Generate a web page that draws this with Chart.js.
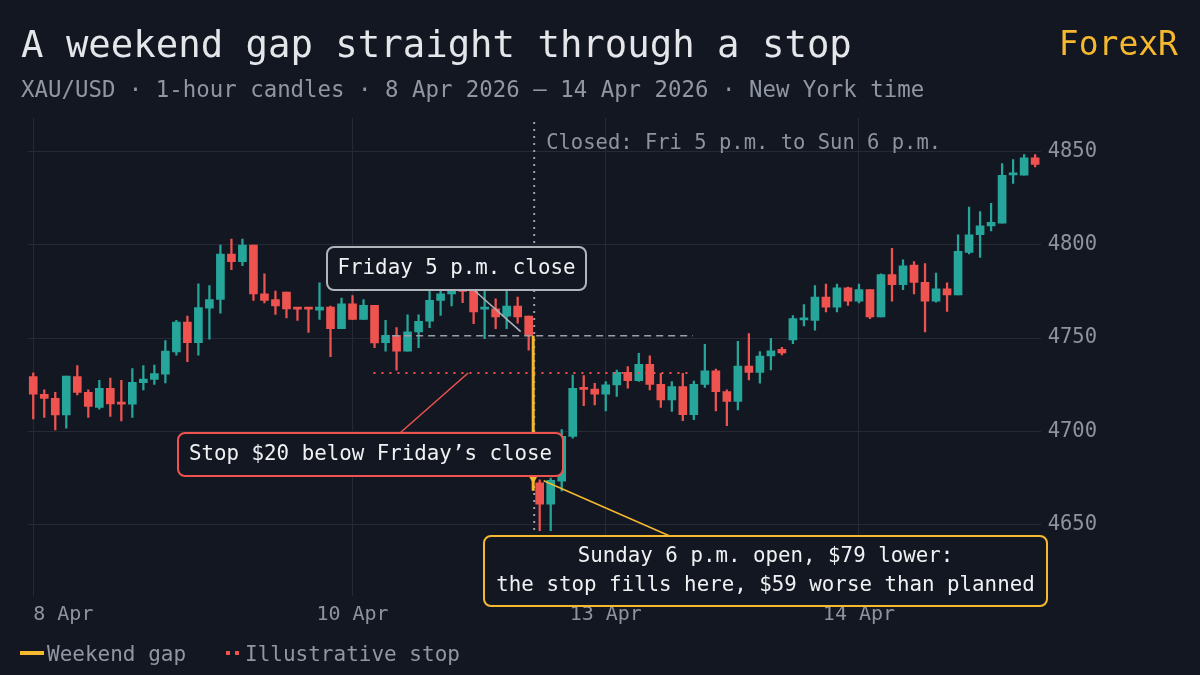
<!DOCTYPE html>
<html><head><meta charset="utf-8">
<script src="https://cdn.jsdelivr.net/npm/chart.js@4.4.1/dist/chart.umd.min.js"></script>
<style>
html,body{margin:0;padding:0;background:#131722;width:1200px;height:675px;overflow:hidden;font-family:"DejaVu Sans Mono",monospace;}
#wrap{position:absolute;left:0;top:0;width:1200px;height:675px;}
.t{position:absolute;white-space:nowrap;}
</style></head><body>
<div id="wrap"><canvas id="c" width="1200" height="675"></canvas></div>
<div class="t" style="left:21px;top:22px;font-size:37.3px;color:#e4e6ea;">A weekend gap straight through a stop</div>
<div class="t" style="right:22px;top:24px;font-size:33px;color:#f5b82e;">ForexR</div>
<div class="t" style="left:21px;top:76px;font-size:22.4px;color:#9097a3;">XAU/USD · 1-hour candles · 8 Apr 2026 – 14 Apr 2026 · New York time</div>
<div class="t" style="left:20px;top:642px;font-size:21px;color:#9097a3;"><span style="display:inline-block;width:24px;height:4px;background:#f5b82e;vertical-align:middle;margin-right:3px;position:relative;top:-2px"></span>Weekend gap</div>
<div class="t" style="left:226px;top:642px;font-size:21px;color:#9097a3;"><span style="display:inline-block;width:4px;height:4px;background:#ef5350;vertical-align:middle;margin-right:5px;position:relative;top:-2px"></span><span style="display:inline-block;width:4px;height:4px;background:#ef5350;vertical-align:middle;margin-right:6px;position:relative;top:-2px"></span>Illustrative stop</div>
<script>
const opens  = [4729.3,4719.9,4717.7,4708.8,4729.3,4720.9,4712.8,4723.1,4715.2,4714.5,4726.1,4727.9,4730.7,4742.6,4758.6,4747.6,4766.1,4770.7,4795.1,4791.0,4799.9,4773.7,4770.7,4774.6,4765.9,4765.9,4765.0,4766.6,4755.1,4768.4,4760.0,4767.5,4747.6,4751.5,4743.0,4753.3,4759.0,4770.2,4773.7,4777.0,4776.4,4765.5,4765.7,4761.8,4767.2,4761.8,4672.4,4661.0,4673.3,4697.3,4723.0,4722.7,4719.9,4724.9,4731.6,4727.2,4735.9,4725.2,4716.9,4724.0,4708.9,4725.2,4732.5,4721.3,4716.0,4735.0,4731.6,4740.4,4744.0,4749.0,4759.8,4759.5,4772.0,4766.6,4776.9,4769.8,4776.0,4761.3,4784.0,4778.7,4789.2,4779.9,4769.8,4776.4,4773.2,4795.9,4805.4,4810.2,4811.6,4837.5,4837.4,4846.6];
const highs  = [4731.4,4722.2,4720.9,4729.6,4735.2,4722.2,4727.3,4728.6,4727.3,4733.7,4735.2,4735.5,4748.7,4759.5,4761.8,4779.1,4778.2,4799.9,4803.1,4803.1,4799.9,4784.4,4775.2,4774.6,4765.9,4765.9,4779.6,4767.2,4771.4,4772.8,4770.7,4767.5,4759.5,4755.6,4762.5,4762.5,4775.0,4778.0,4780.0,4779.0,4780.0,4775.5,4771.0,4775.5,4772.0,4761.8,4674.0,4675.0,4700.9,4730.2,4729.9,4725.8,4726.7,4732.9,4734.7,4741.8,4740.5,4731.1,4726.7,4731.1,4727.0,4746.6,4733.4,4722.2,4748.3,4752.4,4742.7,4749.8,4745.0,4762.0,4768.0,4778.2,4779.0,4779.0,4777.3,4779.0,4776.0,4784.4,4798.1,4791.9,4791.0,4790.0,4784.9,4779.6,4805.4,4820.3,4817.8,4822.3,4843.6,4845.7,4848.4,4848.4];
const lows   = [4706.7,4707.4,4700.8,4701.7,4719.5,4707.4,4711.9,4708.0,4705.6,4707.4,4722.2,4725.2,4725.9,4740.8,4737.3,4740.8,4749.4,4763.4,4786.7,4788.8,4770.2,4768.9,4762.7,4760.8,4759.5,4753.0,4760.0,4740.0,4755.1,4760.0,4760.0,4744.8,4743.0,4732.8,4743.0,4744.8,4755.6,4762.2,4767.2,4769.0,4757.7,4749.7,4755.0,4755.0,4758.0,4743.5,4646.7,4646.7,4668.0,4696.4,4713.8,4714.2,4711.0,4718.7,4723.1,4726.7,4722.2,4712.8,4710.7,4705.7,4706.2,4723.5,4711.0,4703.0,4711.5,4727.5,4725.8,4732.9,4741.0,4747.0,4756.5,4754.2,4764.0,4764.0,4767.5,4768.9,4760.4,4761.3,4769.8,4776.0,4773.7,4753.3,4769.3,4764.3,4773.2,4795.1,4793.3,4807.5,4811.6,4832.9,4837.4,4841.8];
const closes = [4719.9,4717.7,4708.8,4729.6,4720.9,4713.3,4723.1,4714.7,4714.6,4726.3,4728.0,4730.9,4743.0,4758.6,4747.6,4766.3,4770.7,4795.1,4791.0,4799.9,4773.7,4770.2,4767.2,4765.7,4765.5,4765.5,4766.6,4755.1,4768.4,4760.0,4767.5,4747.4,4751.5,4743.0,4753.3,4759.0,4770.2,4773.7,4776.5,4775.0,4764.0,4766.5,4761.3,4767.2,4761.3,4751.3,4660.9,4673.7,4697.3,4723.1,4722.5,4719.9,4724.9,4731.6,4727.2,4735.9,4725.2,4716.9,4724.0,4708.9,4725.2,4732.5,4721.3,4716.0,4735.0,4731.6,4740.4,4743.2,4742.0,4760.5,4760.6,4772.0,4766.6,4776.9,4769.8,4776.0,4761.3,4784.0,4778.7,4788.8,4779.9,4769.8,4776.4,4773.2,4796.5,4805.4,4810.2,4812.0,4837.2,4837.8,4846.6,4843.1];
const tickLabels = {0:"8 Apr",29:"10 Apr",52:"13 Apr",75:"14 Apr"};
const yTicks = [4650,4700,4750,4800,4850];
const fridayClose = 4751.3, sundayOpen = 4672.4, stopLevel = 4731.3;
const fridayIdx = 45, sundayIdx = 46;

const GREEN='#26a69a', RED='#ef5350', YEL='#f5b82e', GREY='#8e939c';
const cats = opens.map((_,i)=>i);
const up = opens.map((o,i)=>closes[i]>=o);
const FONT = '"DejaVu Sans Mono", monospace';

const annot = {
  id:'annot',
  afterDatasetsDraw(ch){
    const c=ch.ctx, x=ch.scales.x, y=ch.scales.y, a=ch.chartArea;
    const px=i=>x.getPixelForValue(i), py=v=>y.getPixelForValue(v);
    c.save();
    c.font='20px '+FONT; c.fillStyle=GREY; c.textBaseline='middle';
    for(const k in tickLabels){ c.textAlign = (+k===0)?'left':'center'; c.fillText(tickLabels[k], px(+k), a.bottom+27); }
    const gx=(px(fridayIdx)+px(sundayIdx))/2;
    c.strokeStyle='#9aa0aa'; c.lineWidth=2; c.setLineDash([2,5]);
    c.beginPath(); c.moveTo(gx,a.top+4); c.lineTo(gx,py(4644)); c.stroke();
    c.setLineDash([]);
    c.font='20.5px '+FONT; c.fillStyle=GREY; c.textAlign='left'; c.textBaseline='middle';
    c.fillText('Closed: Fri 5 p.m. to Sun 6 p.m.', gx+12, py(4854));
    c.strokeStyle='#9aa0aa'; c.lineWidth=1.5; c.setLineDash([7,5]);
    c.beginPath(); c.moveTo(px(32.6),py(fridayClose)); c.lineTo(px(59.9),py(fridayClose)); c.stroke();
    c.strokeStyle=RED; c.lineWidth=2; c.setLineDash([2,6]);
    c.beginPath(); c.moveTo(px(30.9),py(stopLevel)); c.lineTo(px(59.9),py(stopLevel)); c.stroke();
    c.setLineDash([]);
    c.strokeStyle=YEL; c.lineWidth=3;
    c.beginPath(); c.moveTo(gx-1,py(fridayClose)); c.lineTo(gx-1,py(sundayOpen)+8); c.stroke();
    c.fillStyle=YEL; c.beginPath(); c.moveTo(gx-5,py(sundayOpen)-6); c.lineTo(gx+3,py(sundayOpen)-6); c.lineTo(gx-1,py(sundayOpen)+1); c.fill();
    c.lineWidth=1.5;
    c.strokeStyle='#b0b4bb'; c.beginPath(); c.moveTo(475,291); c.lineTo(px(fridayIdx)-8,py(fridayClose)-4); c.stroke();
    c.strokeStyle=RED; c.beginPath(); c.moveTo(400,433); c.lineTo(px(39.5),py(stopLevel)); c.stroke();
    c.strokeStyle=YEL; c.beginPath(); c.moveTo(px(sundayIdx)+4,py(sundayOpen)-2); c.lineTo(672,537); c.stroke();
    const box=(x0,y0,w,h,col,lines)=>{
      c.fillStyle='#131722'; c.strokeStyle=col; c.lineWidth=2;
      c.beginPath(); c.roundRect(x0,y0,w,h,7); c.fill(); c.stroke();
      c.fillStyle='#f0f1f3'; c.font='20.8px '+FONT; c.textAlign='center'; c.textBaseline='middle';
      lines.forEach((t,i)=>c.fillText(t,x0+w/2,y0+h/2+(i-(lines.length-1)/2)*29));
    };
    box(327,247,259,43,'#b0b4bb',['Friday 5 p.m. close']);
    box(178,433,385,43,RED,['Stop $20 below Friday’s close']);
    box(484,536,563,70,YEL,['Sunday 6 p.m. open, $79 lower:','the stop fills here, $59 worse than planned']);
    c.restore();
  }
};

new Chart(document.getElementById('c'),{
  type:'bar',
  data:{labels:cats,datasets:[
    {label:'wick',data:cats.map(i=>[lows[i],highs[i]]),backgroundColor:up.map(u=>u?GREEN:RED),barThickness:1.6,grouped:false,order:2},
    {label:'body',data:cats.map(i=>[opens[i],closes[i]]),backgroundColor:up.map(u=>u?GREEN:RED),barThickness:8,grouped:false,minBarLength:2,order:1}
  ]},
  options:{
    responsive:false,animation:false,
    layout:{padding:{left:27,right:96,top:118,bottom:49}},
    plugins:{legend:{display:false},tooltip:{enabled:false}},
    scales:{
      x:{type:'category',offset:true,border:{display:false},
        grid:{offset:false,drawTicks:true,tickLength:8,color:ctx=>tickLabels[ctx.index]!==undefined?'#252a36':'rgba(0,0,0,0)'},
        ticks:{autoSkip:false,color:'rgba(0,0,0,0)',font:{size:20,family:FONT},maxRotation:0,callback:(v,i)=>tickLabels[i]||''}},
      y:{position:'right',min:4616,max:4868,border:{display:false},
        afterBuildTicks:s=>{s.ticks=yTicks.map(v=>({value:v}));},
        grid:{color:'#252a36',drawTicks:false},
        ticks:{color:GREY,padding:7,font:{size:20.5,family:FONT},callback:v=>String(v)}}
    }
  },
  plugins:[annot]
});
</script>
</body></html>
